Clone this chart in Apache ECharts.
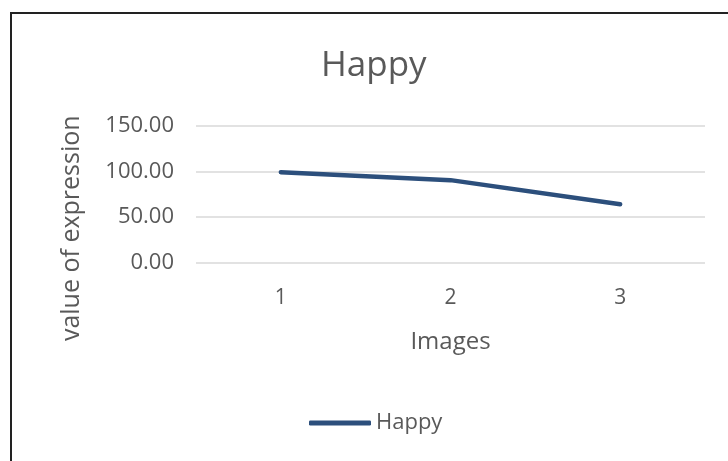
<!DOCTYPE html>
<html>
<head>
<meta charset="utf-8">
<script src="https://cdn.jsdelivr.net/npm/echarts@6/dist/echarts.min.js"></script>
<style>
  html, body { margin: 0; padding: 0; background: #fff; }
  #frame { position: absolute; left: 10px; top: 12px; width: 718px; height: 449px;
           border-left: 2px solid #222; border-top: 2px solid #222; box-sizing: border-box; }
  #chart { position: absolute; left: 0; top: 0; width: 728px; height: 461px; }
</style>
</head>
<body>
<div id="frame"></div>
<div id="chart"></div>
<script>
// Expression value per image
const categories = ['1', '2', '3'];
const happyValues = [99.2, 90.5, 64.0];
const yTicks = { min: 0, max: 150, interval: 50 };

const FONT = '"Open Sans", "Liberation Sans", sans-serif';
const GREY = '#595959';
const chart = echarts.init(document.getElementById('chart'));
chart.setOption({
  backgroundColor: 'transparent',
  animation: false,
  title: {
    text: 'Happy',
    left: 316, top: 44,
    textStyle: { fontFamily: FONT, fontSize: 35, fontWeight: 'normal', color: GREY }
  },
  legend: {
    top: 407, left: 304,
    itemWidth: 62, itemHeight: 5,
    icon: 'roundRect',
    textStyle: { fontFamily: FONT, fontSize: 22, color: GREY },
    data: ['Happy']
  },
  grid: { left: 196, right: 23, top: 126, bottom: 198.5 },
  xAxis: {
    type: 'category',
    data: categories,
    boundaryGap: true,
    axisLine: { show: false },
    axisTick: { show: false },
    axisLabel: { margin: 25, fontFamily: FONT, fontSize: 21, color: GREY },
    name: 'Images',
    nameLocation: 'middle',
    nameGap: 68,
    nameTextStyle: { fontFamily: FONT, fontSize: 24, color: GREY }
  },
  yAxis: {
    type: 'value',
    min: yTicks.min, max: yTicks.max, interval: yTicks.interval,
    axisLine: { show: false },
    axisTick: { show: false },
    splitLine: { lineStyle: { color: '#d9d9d9', width: 1.5 } },
    axisLabel: {
      margin: 22, fontFamily: FONT, fontSize: 22, color: GREY,
      formatter: v => v.toFixed(2)
    },
    name: 'value of expression',
    nameLocation: 'middle',
    nameGap: 112,
    nameTextStyle: { fontFamily: FONT, fontSize: 25, color: GREY, padding: [0, 68, 0, 0] }
  },
  series: [{
    name: 'Happy',
    type: 'line',
    data: happyValues,
    showSymbol: false,
    symbol: 'none',
    lineStyle: { color: '#2c4f7c', width: 4.5, cap: 'round' },
    itemStyle: { color: '#2c4f7c' }
  }]
});
</script>
</body>
</html>
